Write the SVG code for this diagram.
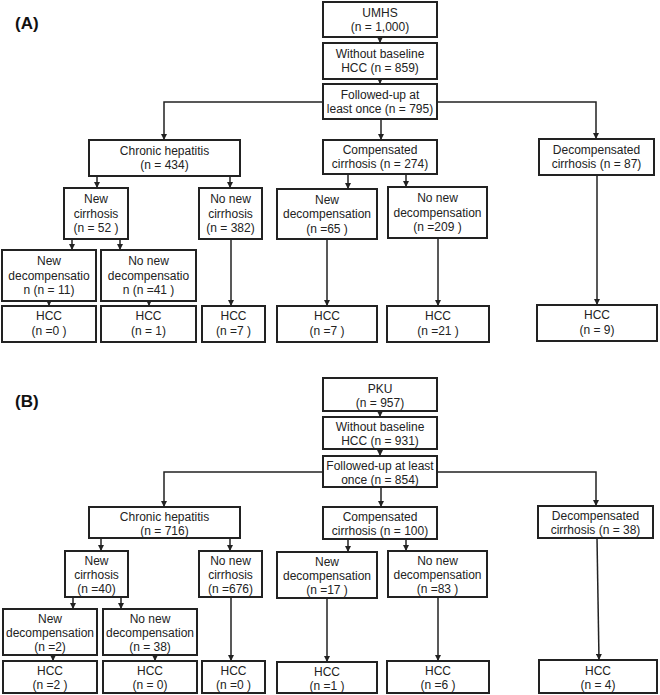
<svg xmlns="http://www.w3.org/2000/svg" width="660" height="695" viewBox="0 0 660 695">
<style>
.bx{fill:#fff;stroke:#222;stroke-width:2}
.t{font-family:"Liberation Sans",Arial,sans-serif;font-size:12px;fill:#222;text-anchor:middle}
.lbl{font-family:"Liberation Sans",Arial,sans-serif;font-size:17px;font-weight:bold;fill:#111}
.c{fill:none;stroke:#222;stroke-width:1.5}
</style>
<defs>
<marker id="ah" viewBox="0 0 10 10" refX="10" refY="5" markerWidth="6" markerHeight="6" markerUnits="userSpaceOnUse" orient="auto">
<path d="M0,0 L10,5 L0,10 z" fill="#222"/>
</marker>
</defs>
<rect width="660" height="695" fill="#fff"/>
<text class="lbl" x="15" y="29">(A)</text>
<text class="lbl" x="15" y="407">(B)</text>

<g id="connectors-A" marker-end="url(#ah)">
<path class="c" d="M380,37 V43" marker-end="url(#ah)"/>
<path class="c" d="M380,79 V84" marker-end="url(#ah)"/>
<path class="c" d="M381,119 V140" marker-end="url(#ah)"/>
<path class="c" d="M323,102 H164 V140" marker-end="url(#ah)"/>
<path class="c" d="M437,102 H596 V139" marker-end="url(#ah)"/>
<path class="c" d="M97,176 V188" marker-end="url(#ah)"/>
<path class="c" d="M230,176 V188" marker-end="url(#ah)"/>
<path class="c" d="M348,174 V189" marker-end="url(#ah)"/>
<path class="c" d="M406,174 V187" marker-end="url(#ah)"/>
<path class="c" d="M72,239 V250" marker-end="url(#ah)"/>
<path class="c" d="M120,239 V250" marker-end="url(#ah)"/>
<path class="c" d="M49,301 V306" marker-end="url(#ah)"/>
<path class="c" d="M149,301 V306" marker-end="url(#ah)"/>
<path class="c" d="M231,239 V306" marker-end="url(#ah)"/>
<path class="c" d="M327,239 V306" marker-end="url(#ah)"/>
<path class="c" d="M438,238 V306" marker-end="url(#ah)"/>
<path class="c" d="M597,175 V305" marker-end="url(#ah)"/>
</g>

<g id="connectors-B">
<path class="c" d="M380,411 V417" marker-end="url(#ah)"/>
<path class="c" d="M380,449 V456" marker-end="url(#ah)"/>
<path class="c" d="M381,487 V507" marker-end="url(#ah)"/>
<path class="c" d="M323,472 H164 V507" marker-end="url(#ah)"/>
<path class="c" d="M437,472 H596 V506" marker-end="url(#ah)"/>
<path class="c" d="M101,538 V551" marker-end="url(#ah)"/>
<path class="c" d="M230,538 V551" marker-end="url(#ah)"/>
<path class="c" d="M348,539 V552" marker-end="url(#ah)"/>
<path class="c" d="M406,539 V551" marker-end="url(#ah)"/>
<path class="c" d="M73,597 V609" marker-end="url(#ah)"/>
<path class="c" d="M121,597 V609" marker-end="url(#ah)"/>
<path class="c" d="M53,655 V661" marker-end="url(#ah)"/>
<path class="c" d="M155,655 V661" marker-end="url(#ah)"/>
<path class="c" d="M231,597 V661" marker-end="url(#ah)"/>
<path class="c" d="M327,598 V662" marker-end="url(#ah)"/>
<path class="c" d="M438,597 V661" marker-end="url(#ah)"/>
<path class="c" d="M597,538 L599,660" marker-end="url(#ah)"/>
</g>

<!-- Panel A nodes -->
<g id="a-umhs"><rect class="bx" x="323" y="2" width="114" height="35"/><text class="t" x="380" y="16.5">UMHS</text><text class="t" x="380" y="30.5">(n = 1,000)</text></g>
<g id="a-without"><rect class="bx" x="323" y="43" width="114" height="36"/><text class="t" x="380" y="58">Without baseline</text><text class="t" x="380" y="72">HCC (n = 859)</text></g>
<g id="a-followed"><rect class="bx" x="323" y="84" width="114" height="35"/><text class="t" x="380" y="98.5">Followed-up at</text><text class="t" x="380" y="112.5">least once (n = 795)</text></g>
<g id="a-chronic"><rect class="bx" x="89" y="140" width="151" height="36"/><text class="t" x="164.5" y="155">Chronic hepatitis</text><text class="t" x="164.5" y="169">(n = 434)</text></g>
<g id="a-compensated"><rect class="bx" x="323" y="140" width="114" height="34"/><text class="t" x="380" y="154">Compensated</text><text class="t" x="380" y="168">cirrhosis (n = 274)</text></g>
<g id="a-decompensated"><rect class="bx" x="539" y="139" width="115" height="36"/><text class="t" x="596.5" y="154">Decompensated</text><text class="t" x="596.5" y="168">cirrhosis (n = 87)</text></g>
<g id="a-newcirr"><rect class="bx" x="64" y="188" width="64" height="51"/><text class="t" x="96" y="203">New</text><text class="t" x="96" y="217.5">cirrhosis</text><text class="t" x="96" y="232">(n = 52 )</text></g>
<g id="a-nonewcirr"><rect class="bx" x="199" y="188" width="63" height="51"/><text class="t" x="230.5" y="203">No new</text><text class="t" x="230.5" y="217.5">cirrhosis</text><text class="t" x="230.5" y="232">(n = 382)</text></g>
<g id="a-newdecomp"><rect class="bx" x="277" y="189" width="100" height="50"/><text class="t" x="327" y="203.5">New</text><text class="t" x="327" y="218">decompensation</text><text class="t" x="327" y="232.5">(n =65 )</text></g>
<g id="a-nonewdecomp"><rect class="bx" x="388" y="187" width="99" height="51"/><text class="t" x="437.5" y="202">No new</text><text class="t" x="437.5" y="216.5">decompensation</text><text class="t" x="437.5" y="231">(n =209 )</text></g>
<g id="a-newdecomp2"><rect class="bx" x="2" y="250" width="94" height="51"/><text class="t" x="49" y="265">New</text><text class="t" x="49" y="279.5">decompensatio</text><text class="t" x="49" y="294">n (n = 11)</text></g>
<g id="a-nonewdecomp2"><rect class="bx" x="101" y="250" width="95" height="51"/><text class="t" x="148.5" y="265">No new</text><text class="t" x="148.5" y="279.5">decompensatio</text><text class="t" x="148.5" y="294">n (n =41 )</text></g>
<g id="a-hcc1"><rect class="bx" x="2" y="306" width="94" height="36"/><text class="t" x="49" y="320">HCC</text><text class="t" x="49" y="335">(n =0 )</text></g>
<g id="a-hcc2"><rect class="bx" x="101" y="306" width="95" height="36"/><text class="t" x="148.5" y="320">HCC</text><text class="t" x="148.5" y="335">(n = 1)</text></g>
<g id="a-hcc3"><rect class="bx" x="202" y="306" width="63" height="36"/><text class="t" x="233.5" y="320">HCC</text><text class="t" x="233.5" y="335">(n =7 )</text></g>
<g id="a-hcc4"><rect class="bx" x="277" y="306" width="100" height="36"/><text class="t" x="327" y="320">HCC</text><text class="t" x="327" y="335">(n =7 )</text></g>
<g id="a-hcc5"><rect class="bx" x="387" y="306" width="102" height="36"/><text class="t" x="438" y="320">HCC</text><text class="t" x="438" y="335">(n =21 )</text></g>
<g id="a-hcc6"><rect class="bx" x="537" y="305" width="120" height="36"/><text class="t" x="597" y="319">HCC</text><text class="t" x="597" y="334">(n = 9)</text></g>

<!-- Panel B nodes -->
<g id="b-pku"><rect class="bx" x="323" y="378" width="114" height="33"/><text class="t" x="380" y="392.5">PKU</text><text class="t" x="380" y="406.5">(n = 957)</text></g>
<g id="b-without"><rect class="bx" x="323" y="417" width="114" height="32"/><text class="t" x="380" y="431">Without baseline</text><text class="t" x="380" y="445">HCC (n = 931)</text></g>
<g id="b-followed"><rect class="bx" x="323" y="456" width="114" height="31"/><text class="t" x="380" y="469.5">Followed-up at least</text><text class="t" x="380" y="483.5">once (n = 854)</text></g>
<g id="b-chronic"><rect class="bx" x="89" y="507" width="151" height="31"/><text class="t" x="164.5" y="520.5">Chronic hepatitis</text><text class="t" x="164.5" y="534.5">(n = 716)</text></g>
<g id="b-compensated"><rect class="bx" x="323" y="507" width="114" height="32"/><text class="t" x="380" y="521">Compensated</text><text class="t" x="380" y="535">cirrhosis (n = 100)</text></g>
<g id="b-decompensated"><rect class="bx" x="538" y="506" width="115" height="32"/><text class="t" x="595.5" y="520">Decompensated</text><text class="t" x="595.5" y="534">cirrhosis (n = 38)</text></g>
<g id="b-newcirr"><rect class="bx" x="65" y="551" width="63" height="46"/><text class="t" x="96.5" y="565">New</text><text class="t" x="96.5" y="579">cirrhosis</text><text class="t" x="96.5" y="593">(n =40)</text></g>
<g id="b-nonewcirr"><rect class="bx" x="199" y="551" width="63" height="46"/><text class="t" x="230.5" y="565">No new</text><text class="t" x="230.5" y="579">cirrhosis</text><text class="t" x="230.5" y="593">(n =676)</text></g>
<g id="b-newdecomp"><rect class="bx" x="277" y="552" width="100" height="46"/><text class="t" x="327" y="566">New</text><text class="t" x="327" y="580">decompensation</text><text class="t" x="327" y="594">(n =17 )</text></g>
<g id="b-nonewdecomp"><rect class="bx" x="388" y="551" width="99" height="46"/><text class="t" x="437.5" y="565">No new</text><text class="t" x="437.5" y="579">decompensation</text><text class="t" x="437.5" y="593">(n =83 )</text></g>
<g id="b-newdecomp2"><rect class="bx" x="3" y="609" width="94" height="46"/><text class="t" x="50" y="623">New</text><text class="t" x="50" y="637">decompensation</text><text class="t" x="50" y="651">(n =2)</text></g>
<g id="b-nonewdecomp2"><rect class="bx" x="103" y="609" width="94" height="46"/><text class="t" x="150" y="623">No new</text><text class="t" x="150" y="637">decompensation</text><text class="t" x="150" y="651">(n = 38)</text></g>
<g id="b-hcc1"><rect class="bx" x="3" y="661" width="94" height="32"/><text class="t" x="50" y="675">HCC</text><text class="t" x="50" y="689">(n =2 )</text></g>
<g id="b-hcc2"><rect class="bx" x="103" y="661" width="94" height="32"/><text class="t" x="150" y="675">HCC</text><text class="t" x="150" y="689">(n = 0)</text></g>
<g id="b-hcc3"><rect class="bx" x="202" y="661" width="63" height="32"/><text class="t" x="233.5" y="675">HCC</text><text class="t" x="233.5" y="689">(n =0 )</text></g>
<g id="b-hcc4"><rect class="bx" x="277" y="662" width="100" height="31"/><text class="t" x="327" y="675.5">HCC</text><text class="t" x="327" y="689.5">(n =1 )</text></g>
<g id="b-hcc5"><rect class="bx" x="387" y="661" width="102" height="32"/><text class="t" x="438" y="675">HCC</text><text class="t" x="438" y="689">(n =6 )</text></g>
<g id="b-hcc6"><rect class="bx" x="539" y="660" width="118" height="33"/><text class="t" x="598" y="674.5">HCC</text><text class="t" x="598" y="688.5">(n = 4)</text></g>
</svg>
